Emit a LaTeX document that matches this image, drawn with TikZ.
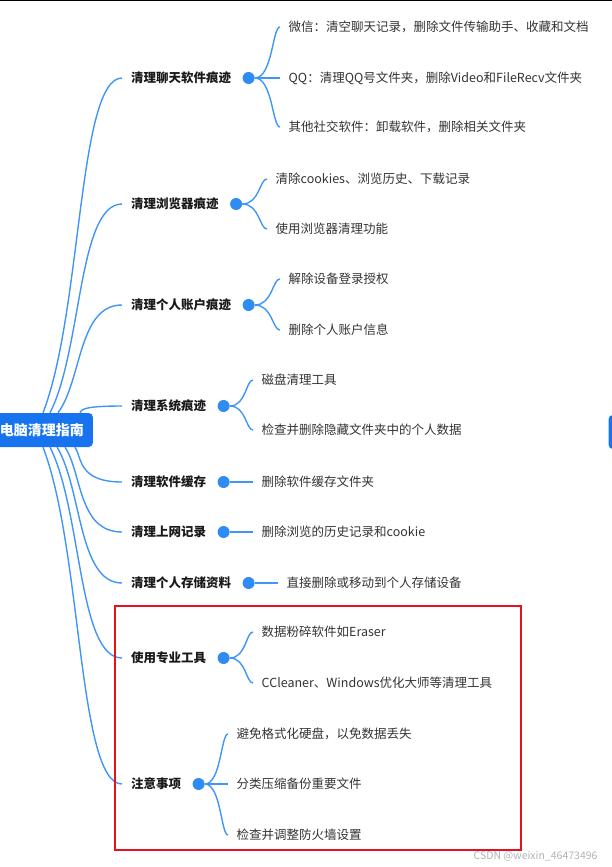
\documentclass[tikz,border=0pt]{standalone}
\usepackage{fontspec}
\setmainfont{Noto Sans CJK SC}
\usetikzlibrary{positioning, calc}
\definecolor{linkblue}{HTML}{4195F6}
\definecolor{dotblue}{HTML}{2F8CF2}
\definecolor{rootblue}{HTML}{1774EE}
\definecolor{boxred}{HTML}{E3131C}
\definecolor{leafgray}{HTML}{333333}

% curve from the root to a topic
\newcommand{\limb}[2]{%
  \draw[link] let \p1=(#1), \p2=(#2.west) in
    (\p1) .. controls (82pt,{\y1+0.3*(\y2-\y1)}) and (78pt,\y2) .. (\p2);}
% curve from a topic dot to a leaf
\newcommand{\twig}[2]{%
  \draw[link] let \p1=(#1.east), \p2=(#2.west) in
    (\p1) .. controls ({\x1+0.7*(\x2-\x1)},\y1) and ({\x1+0.7*(\x2-\x1)},\y2) .. (\p2);}

\begin{document}
\begin{tikzpicture}[
    x=1pt, y=-1pt,
    link/.style={draw=linkblue, line width=1.4pt},
    root/.style={fill=rootblue, rounded corners=4pt, text=white, font=\fontsize{14}{16}\selectfont\bfseries,
                 minimum height=34pt, inner xsep=9pt, anchor=east},
    topic/.style={anchor=west, inner xsep=9pt, inner ysep=0pt, text=black!90, font=\fontsize{12.5}{14}\selectfont\bfseries},
    dot/.style={circle, fill=dotblue, minimum size=12pt, inner sep=0pt},
    leaf/.style={anchor=west, inner xsep=8.5pt, inner ysep=0pt, text=leafgray, font=\fontsize{12.5}{14}\selectfont},
    wm/.style={anchor=east, text=black!30, font=\fontsize{10.5}{12}\selectfont},
]
\useasboundingbox (0,0) rectangle (612,867);
\clip (0,0) rectangle (612,867);
\draw[line width=1.5pt] (0,0.5) -- (612,0.5);

% root and the clipped neighbour on the right
\node[root] (root) at (93,430) {电脑清理指南};
\node[fill=rootblue, rounded corners=4pt, minimum width=30pt, minimum height=34pt, anchor=west] (next) at (608.5,432) {};

% topics
\node[topic] (chat) at (122,78) {清理聊天软件痕迹};
\node[topic] (brow) at (122,204) {清理浏览器痕迹};
\node[topic] (acct) at (122,305) {清理个人账户痕迹};
\node[topic] (sys) at (122,406) {清理系统痕迹};
\node[topic] (cache) at (122,482) {清理软件缓存};
\node[topic] (web) at (122,532) {清理上网记录};
\node[topic] (store) at (122,583) {清理个人存储资料};
\node[topic] (tool) at (122,658) {使用专业工具};
\node[topic] (note) at (122,784) {注意事项};

\foreach \t in {chat, brow, acct, sys, cache, web, store, tool, note}
  \node[dot, right=2pt of \t] (\t d) {};

% leaves
\node[leaf] (chat1) at (280,27) {微信：清空聊天记录，删除文件传输助手、收藏和文档};
\node[leaf] (chat2) at (280,78) {QQ：清理QQ号文件夹，删除Video和FileRecv文件夹};
\node[leaf] (chat3) at (280,127) {其他社交软件：卸载软件，删除相关文件夹};
\node[leaf] (brow1) at (267,179) {清除cookies、浏览历史、下载记录};
\node[leaf] (brow2) at (267,229) {使用浏览器清理功能};
\node[leaf] (acct1) at (280,279) {解除设备登录授权};
\node[leaf] (acct2) at (280,330) {删除个人账户信息};
\node[leaf] (sys1) at (253,380) {磁盘清理工具};
\node[leaf] (sys2) at (253,430) {检查并删除隐藏文件夹中的个人数据};
\node[leaf] (cache1) at (253,482) {删除软件缓存文件夹};
\node[leaf] (web1) at (253,532) {删除浏览的历史记录和cookie};
\node[leaf] (store1) at (278,583) {直接删除或移动到个人存储设备};
\node[leaf] (tool1) at (253,632) {数据粉碎软件如Eraser};
\node[leaf] (tool2) at (253,683) {CCleaner、Windows优化大师等清理工具};
\node[leaf] (note1) at (228,734) {避免格式化硬盘，以免数据丢失};
\node[leaf] (note2) at (228,784) {分类压缩备份重要文件};
\node[leaf] (note3) at (228,835) {检查并调整防火墙设置};

% root -> topics
\limb{[xshift=-50pt]root.north east}{chat}
\limb{[xshift=-43pt]root.north east}{brow}
\limb{[xshift=-35pt]root.north east}{acct}
\limb{[xshift=-13pt]root.north east}{sys}
\limb{[xshift=-18pt]root.south east}{cache}
\limb{[xshift=-28pt]root.south east}{web}
\limb{[xshift=-36pt]root.south east}{store}
\limb{[xshift=-43pt]root.south east}{tool}
\limb{[xshift=-50pt]root.south east}{note}

% dots -> leaves
\twig{chatd}{chat1} \twig{chatd}{chat2} \twig{chatd}{chat3}
\twig{browd}{brow1} \twig{browd}{brow2}
\twig{acctd}{acct1} \twig{acctd}{acct2}
\twig{sysd}{sys1} \twig{sysd}{sys2}
\twig{cached}{cache1}
\twig{webd}{web1}
\twig{stored}{store1}
\twig{toold}{tool1} \twig{toold}{tool2}
\twig{noted}{note1} \twig{noted}{note2} \twig{noted}{note3}

% highlighted part
\draw[boxred, line width=2pt] (115,606) rectangle (521,850);

\node[wm] (mark) at (601,856) {CSDN @weixin\_46473496};
\end{tikzpicture}
\end{document}
